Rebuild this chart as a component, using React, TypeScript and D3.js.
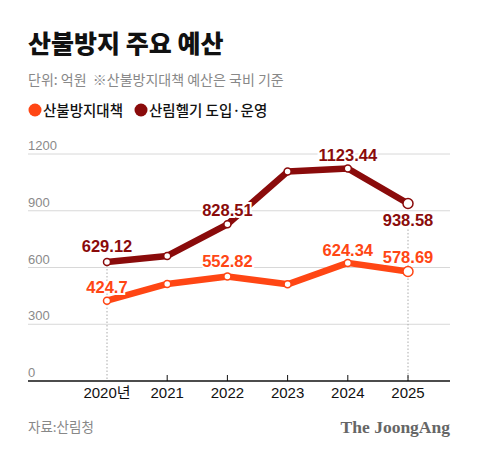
import * as d3 from 'd3';

const years = ['2020', '2021', '2022', '2023', '2024', '2025'];
const yearLabels = ['2020년', '2021', '2022', '2023', '2024', '2025'];
const fireBudget = [424.7, 513, 552.82, 511, 624.34, 578.69];
const heliBudget = [629.12, 661, 828.51, 1107, 1123.44, 938.58];
const fireLabels = ['424.7', '', '552.82', '', '624.34', '578.69'];
const heliLabels = ['629.12', '', '828.51', '', '1123.44', '938.58'];
const yTicks = [0, 300, 600, 900, 1200];

const ORANGE = '#ff4614';
const DARK = '#8a0b0b';
const KR = '"Noto Sans CJK KR", "Noto Sans", sans-serif';
const NUM = '"Liberation Sans", Arial, "Noto Sans CJK KR", sans-serif';

export default function App() {
  const left = 28;
  const right = 450;
  const x = d3.scalePoint<string>().domain(years).range([107, 408]);
  const y = d3.scaleLinear().domain([0, 1200]).range([381, 154]);
  const line = d3
    .line<number>()
    .x((_, i) => x(years[i]) as number)
    .y(d => y(d));

  // label offsets: negative = above the point, positive = below
  const heliOffset = [-10, 0, -8, 0, -7, 23];
  const fireOffset = [-8, 0, -9, 0, -7, -9];

  const last = years.length - 1;

  return (
    <div style={{ position: 'absolute', left: 0, top: 0 }}>
      <svg width={480} height={455} style={{ display: 'block', background: '#fff' }}>
        <text x={left} y={53} fontFamily={KR} fontWeight={900} fontSize={25} fill="#111">
          산불방지 주요 예산
        </text>
        <text
          x={left}
          y={85}
          fontFamily={KR}
          fontSize={14}
          fill="#888"
          style={{ whiteSpace: 'pre' }}
        >
          {'단위: 억원  ※산불방지대책 예산은 국비 기준'}
        </text>

        {/* legend */}
        <circle cx={35} cy={110} r={6.5} fill={ORANGE} />
        <text x={43} y={115.5} fontFamily={KR} fontSize={14.5} fontWeight={500} fill="#111">
          산불방지대책
        </text>
        <circle cx={141} cy={110} r={6.5} fill={DARK} />
        <text x={149} y={115.5} fontFamily={KR} fontSize={14.5} fontWeight={500} fill="#111">
          산림헬기 도입·운영
        </text>

        {/* grid */}
        {yTicks.map(t => (
          <g key={t}>
            {t > 0 && (
              <line x1={left} x2={right} y1={y(t)} y2={y(t)} stroke="#d8d8d8" strokeWidth={1} />
            )}
            <text x={left} y={y(t) - 4} fontFamily={NUM} fontSize={13} fill="#8a8a8a">
              {t}
            </text>
          </g>
        ))}

        {/* dotted guides */}
        <line
          x1={x(years[0])}
          x2={x(years[0])}
          y1={y(heliBudget[0])}
          y2={y(0)}
          stroke="#aaa"
          strokeWidth={1}
          strokeDasharray="1.5,2"
        />
        <line
          x1={x(years[last])}
          x2={x(years[last])}
          y1={y(heliBudget[last]) + 26}
          y2={y(0)}
          stroke="#aaa"
          strokeWidth={1}
          strokeDasharray="1.5,2"
        />

        {/* axis */}
        <line x1={left} x2={right} y1={y(0)} y2={y(0)} stroke="#111" strokeWidth={1.5} />
        {years.map((yr, i) => (
          <g key={yr}>
            {i > 0 && (
              <line
                x1={x(yr)}
                x2={x(yr)}
                y1={y(0) - 6}
                y2={y(0)}
                stroke="#111"
                strokeWidth={1}
              />
            )}
            <text
              x={x(yr)}
              y={398}
              textAnchor="middle"
              fontFamily={NUM}
              fontSize={15}
              fill="#111"
            >
              {yearLabels[i]}
            </text>
          </g>
        ))}

        {/* lines */}
        <path d={line(heliBudget) || ''} fill="none" stroke={DARK} strokeWidth={6.5} strokeLinejoin="round" />
        <path d={line(fireBudget) || ''} fill="none" stroke={ORANGE} strokeWidth={6.5} strokeLinejoin="round" />

        {[
          { data: heliBudget, color: DARK },
          { data: fireBudget, color: ORANGE },
        ].map(s =>
          s.data.map((v, i) => (
            <circle
              key={`${s.color}-${i}`}
              cx={x(years[i])}
              cy={y(v)}
              r={i === last ? 5 : 3.5}
              fill="#fff"
              stroke={s.color}
              strokeWidth={1.5}
            />
          ))
        )}

        {/* value labels */}
        {heliLabels.map((lab, i) =>
          lab ? (
            <text
              key={`h${i}`}
              x={x(years[i])}
              y={y(heliBudget[i]) + heliOffset[i]}
              textAnchor="middle"
              fontFamily={NUM}
              fontWeight={700}
              fontSize={16.5}
              fill={DARK}
              stroke="#fff"
              strokeWidth={4}
              paintOrder="stroke"
            >
              {lab}
            </text>
          ) : null
        )}
        {fireLabels.map((lab, i) =>
          lab ? (
            <text
              key={`f${i}`}
              x={x(years[i])}
              y={y(fireBudget[i]) + fireOffset[i]}
              textAnchor="middle"
              fontFamily={NUM}
              fontWeight={700}
              fontSize={16.5}
              fill={ORANGE}
              stroke="#fff"
              strokeWidth={4}
              paintOrder="stroke"
            >
              {lab}
            </text>
          ) : null
        )}

        {/* footer */}
        <text x={left} y={432} fontFamily={KR} fontSize={13.5} fill="#888">
          자료:산림청
        </text>
        <text
          x={right}
          y={433}
          textAnchor="end"
          fontFamily='"Liberation Serif", "DejaVu Serif", serif'
          fontWeight={700}
          fontSize={17.5}
          fill="#666"
        >
          The JoongAng
        </text>
      </svg>
    </div>
  );
}
